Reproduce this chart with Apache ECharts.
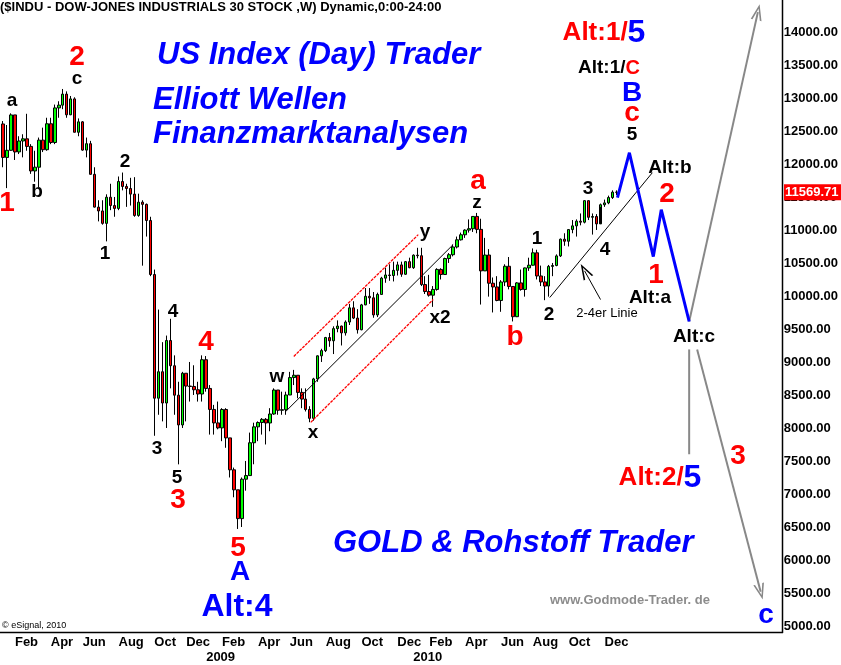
<!DOCTYPE html>
<html><head><meta charset="utf-8">
<script src="https://cdn.jsdelivr.net/npm/echarts@6/dist/echarts.min.js"></script>
<style>html,body{margin:0;padding:0;background:#fff}#c{width:841px;height:665px}</style>
</head><body><div id="c"></div>
<script>
// ---------- DATA ----------
const firstWeek = '2008-01-14';
const totalWeeks = 196;
const opens = [
12606,12099,12207,12743,12182,12348,12381,12266,11894,11951,
12361,12216,12609,12325,12849,12891,13058,12745,12986,12480,
12638,12210,12307,11843,11346,11288,11100,11496,11370,11326,
11734,11659,11628,11543,11220,11421,11388,11143,10325,8451,
8852,8378,9325,8943,8497,8046,8829,8635,8629,8579,
8515,9034,8599,8281,8077,8001,8280,7850,7366,7063,
6627,7224,7279,7776,8017,8083,8131,8076,8212,8575,
8268,8277,8500,8764,8799,8539,8438,8280,8146,8743,
9093,9172,9370,9321,9505,9544,9441,9605,9820,9665,
9488,9865,9995,9972,9713,10023,10270,10318,10310,10388,
10471,10329,10520,10428,10618,10610,10173,10067,10012,10099,
10402,10325,10567,10625,10742,10851,10927,10998,11019,11205,
11009,10380,10620,10193,10137,9932,10212,10450,10144,9686,
10198,10098,10425,10466,10654,10303,10213,10150,10448,10462,
10607,10860,10829,11006,11062,11133,11118,11444,11192,11204,
11092,11382,11410,11491,11573];
const highs = [
12650,12590,12767,12743,12420,12450,12760,12300,12200,12400,
12550,12700,12700,12900,12950,13136,13100,13030,13010,12690,
12650,12400,12350,11950,11450,11450,11540,11700,11500,11810,
11870,11700,11790,11800,11550,11450,11400,11200,10400,9794,
9300,9400,9654,9100,8700,8850,8830,9000,8950,8700,
9100,9090,8650,8350,8400,8300,8300,7850,7400,7063,
7250,7500,7930,8080,8100,8150,8150,8300,8600,8575,
8550,8550,8850,8880,8800,8600,8600,8330,8760,9100,
9200,9380,9440,9540,9630,9550,9630,9880,9920,9800,
9880,10120,10120,10060,10050,10290,10430,10480,10520,10520,
10520,10530,10580,10630,10730,10730,10300,10320,10150,10420,
10420,10580,10650,10780,10900,10960,11010,11160,11210,11258,
11170,10880,10710,10280,10300,10240,10480,10590,10150,10210,
10400,10430,10580,10720,10700,10460,10300,10470,10500,10630,
10870,10950,11010,11150,11160,11250,11450,11450,11250,11240,
11400,11460,11520,11600,11600];
const lows = [
11950,11634,12200,12060,12150,12100,12200,11850,11731,11650,
12180,12200,12300,12300,12700,12830,12700,12740,12480,12420,
12200,12100,11840,11340,11130,11080,10827,11300,11200,11300,
11600,11350,11370,11200,11200,10459,10900,10300,7882,8200,
8100,8000,8600,8200,7449,8000,8100,8400,8500,8400,
8400,8550,7900,7900,7980,7800,7700,7250,6950,6470,
6500,7050,7279,7450,7800,7900,7750,7950,8200,8200,
8200,8200,8500,8650,8450,8300,8250,8087,8110,8700,
9000,9150,9230,9120,9450,9250,9400,9560,9650,9430,
9480,9860,9880,9670,9680,10020,10200,10230,10220,10310,
10290,10320,10420,10410,10570,10150,10030,9990,9835,10080,
10250,10320,10500,10600,10720,10840,10880,10960,10970,10950,
9870,10380,9990,9750,9920,9760,10150,10100,9614,9680,
10080,9990,10380,10460,10250,10150,9936,9990,10300,10450,
10590,10760,10750,10950,10900,11070,11100,11150,10930,11000,
11350,11350,11390,11470,11530];
const closes = [
12099,12207,12743,12182,12348,12381,12266,11894,11951,12361,
12216,12609,12325,12849,12891,13058,12745,12986,12480,12638,
12210,12307,11843,11346,11288,11100,11496,11370,11326,11734,
11659,11628,11543,11220,11421,11388,11143,10325,8451,8852,
8378,9325,8943,8497,8046,8829,8635,8629,8579,8515,
9034,8599,8281,8077,8001,8280,7850,7366,7063,6627,
7224,7279,7776,8017,8083,8131,8076,8212,8575,8268,
8277,8500,8764,8799,8539,8438,8280,8146,8743,9093,
9172,9370,9321,9505,9544,9441,9605,9820,9665,9488,
9865,9995,9972,9713,10023,10270,10318,10310,10388,10471,
10329,10520,10428,10618,10610,10173,10067,10012,10099,10402,
10325,10567,10625,10742,10851,10927,10998,11019,11205,11009,
10380,10620,10193,10137,9932,10212,10450,10144,9686,10198,
10098,10425,10466,10654,10303,10213,10150,10448,10462,10607,
10860,10829,11006,11062,11133,11118,11444,11192,11204,11092,
11382,11410,11491,11573,11569.71];
const priceTicks = [5000,5500,6000,6500,7000,7500,8000,8500,9000,9500,10000,10500,11000,11500,12000,12500,13000,13500,14000];
const lastPrice = 11569.71;
const monthNames = ['Jan','Feb','Mar','Apr','May','Jun','Jul','Aug','Sep','Oct','Nov','Dec'];
const labelMonths = [1,3,5,7,9,11];
// projections / drawn lines: [week index, price]
const projWave = [[154.25,11490],[157.25,12170],[163.25,10597],[165.25,11307],[172.25,9613]];
const arrowUp = [[172.25,9613],[189.5,14300]];
const arrowDown = [[174.25,9190],[190.2,5520]];
const altCLine = [[172.25,9190],[172.25,7602]];
const channelUpper = [[73,9084],[104.25,10929]];
const channelMid = [[71,8252],[113,10778]];
const channelLower = [[77.25,8085],[108,9946]];
const line24 = [[137.25,9976],[163,11867]];
const labelArrow = [[150,9946],[146,10380]];

// ---------- BUILD ----------
const start = Date.parse(firstWeek + 'T00:00:00Z');
const cats = [];
for (let i = 0; i < totalWeeks; i++) cats.push(new Date(start + i * 7 * 86400000).toISOString().slice(0, 10));
const axisText = cats.map((s, i) => {
  if (i === 0 || i >= closes.length) return '';
  const m = +s.slice(5, 7) - 1, pm = +cats[i - 1].slice(5, 7) - 1;
  if (m === pm) return '';
  if (m === 0) return '\n' + s.slice(0, 4);
  return labelMonths.includes(m) ? monthNames[m] : '';
});
const candles = closes.map((c, i) => [opens[i], c, lows[i], highs[i]]);

const FONT = '"Liberation Sans", Arial, sans-serif';
const RED = '#ff0000', BLUE = '#0000ff';
const styles = {
  R: { fill: RED, font: 'bold 28px ' + FONT },
  K: { fill: '#000', font: 'bold 19px ' + FONT },
  B: { fill: BLUE, font: 'bold 28px ' + FONT },
  BB: { fill: BLUE, font: 'bold 32px ' + FONT }
};
const annotations = [
  ['1', 7, 203, 'R'], ['2', 77, 57, 'R'], ['3', 178, 500, 'R'], ['4', 206, 342, 'R'], ['5', 238, 548, 'R'],
  ['a', 478, 181, 'R'], ['b', 515, 337, 'R'], ['c', 632, 113, 'R'], ['2', 667, 194, 'R'], ['1', 656, 275, 'R'], ['3', 738, 456, 'R'],
  ['a', 12, 101, 'K'], ['b', 37, 192, 'K'], ['c', 77, 79, 'K'], ['2', 125, 162, 'K'], ['1', 105, 254, 'K'],
  ['3', 157, 449, 'K'], ['4', 173, 312, 'K'], ['5', 177, 478, 'K'], ['w', 277, 377, 'K'], ['x', 313, 433, 'K'],
  ['y', 425, 232, 'K'], ['x2', 440, 318, 'K'], ['z', 477, 203, 'K'], ['1', 537, 239, 'K'], ['2', 549, 315, 'K'],
  ['3', 588, 189, 'K'], ['4', 605, 250, 'K'], ['5', 632, 135, 'K'], ['Alt:b', 670, 168, 'K'], ['Alt:a', 650, 298, 'K'],
  ['Alt:c', 694, 337, 'K'],
  ['A', 240, 572, 'B'], ['B', 632, 93, 'B'], ['c', 766, 615, 'B'], ['Alt:4', 237, 607, 'BB']
];
const graphics = annotations.map(a => ({
  type: 'text', x: a[1], y: a[2], z: 100, silent: true,
  style: Object.assign({ text: a[0], align: 'center', verticalAlign: 'middle' }, styles[a[3]])
}));
const italic = 'italic bold 31px ' + FONT;
graphics.push(
  { type: 'text', x: 0, y: 1, z: 100, style: { text: '($INDU - DOW-JONES INDUSTRIALS 30 STOCK ,W) Dynamic,0:00-24:00', font: 'bold 13px ' + FONT, fill: '#000', align: 'left', verticalAlign: 'top' } },
  { type: 'text', x: 157, y: 55, z: 100, style: { text: 'US Index (Day) Trader', font: italic, fill: BLUE, align: 'left', verticalAlign: 'middle' } },
  { type: 'text', x: 153, y: 100, z: 100, style: { text: 'Elliott Wellen', font: italic, fill: BLUE, align: 'left', verticalAlign: 'middle' } },
  { type: 'text', x: 153, y: 134, z: 100, style: { text: 'Finanzmarktanalysen', font: italic, fill: BLUE, align: 'left', verticalAlign: 'middle' } },
  { type: 'text', x: 333, y: 543, z: 100, style: { text: 'GOLD & Rohstoff Trader', font: italic, fill: BLUE, align: 'left', verticalAlign: 'middle' } },
  { type: 'text', x: 550, y: 600, z: 100, style: { text: 'www.Godmode-Trader. de', font: 'bold 13px ' + FONT, fill: '#8c8c8c', align: 'left', verticalAlign: 'middle' } },
  { type: 'text', x: 2, y: 626, z: 100, style: { text: '\u00a9 eSignal, 2010', font: '9px ' + FONT, fill: '#000', align: 'left', verticalAlign: 'middle' } },
  { type: 'text', x: 607, y: 313, z: 100, style: { text: '2-4er Linie', font: '13px ' + FONT, fill: '#000', align: 'center', verticalAlign: 'middle' } },
  { type: 'text', x: 604, y: 33, z: 100, style: { text: '{r|Alt:1/}{b|5}', align: 'center', verticalAlign: 'middle',
      rich: { r: { fill: RED, font: 'bold 26px ' + FONT }, b: { fill: BLUE, font: 'bold 32px ' + FONT } } } },
  { type: 'text', x: 609, y: 68, z: 100, style: { text: '{k|Alt:1/}{r|C}', align: 'center', verticalAlign: 'middle',
      rich: { k: { fill: '#000', font: 'bold 19px ' + FONT }, r: { fill: RED, font: 'bold 20px ' + FONT } } } },
  { type: 'text', x: 660, y: 478, z: 100, style: { text: '{r|Alt:2/}{b|5}', align: 'center', verticalAlign: 'middle',
      rich: { r: { fill: RED, font: 'bold 26px ' + FONT }, b: { fill: BLUE, font: 'bold 32px ' + FONT } } } }
);

const arrowHead = 'path://M5,0 L10,16 L8.4,16 L5,4.5 L1.6,16 L0,16 Z';
function seg(pts, color, width, type) {
  return { type: 'line', xAxisIndex: 1, yAxisIndex: 0, data: pts, showSymbol: false, symbol: 'none', silent: true,
    lineStyle: { color: color, width: width, type: type || 'solid' }, z: 5, animation: false };
}
function arrowLine(pts, color, width) {
  return { type: 'line', xAxisIndex: 1, yAxisIndex: 0, data: [], silent: true, animation: false,
    markLine: { silent: true, animation: false, symbol: ['none', arrowHead], symbolSize: [11, 16],
      label: { show: false }, lineStyle: { color: color, width: width, type: 'solid' },
      emphasis: { disabled: true },
      data: [[{ coord: pts[0] }, { coord: pts[1] }]] } };
}

const chart = echarts.init(document.getElementById('c'));
chart.setOption({
  animation: false,
  backgroundColor: '#fff',
  grid: { left: 1, right: 55, top: 0, bottom: 32, containLabel: false },
  xAxis: [
    { type: 'category', data: cats, boundaryGap: true,
      axisLine: { show: true, onZero: false, lineStyle: { color: '#000', width: 1 } }, axisTick: { show: false },
      axisLabel: { interval: 0, formatter: (v, i) => axisText[i], align: 'left', margin: 3, lineHeight: 15,
        color: '#000', fontWeight: 'bold', fontSize: 13, fontFamily: FONT },
      splitLine: { show: false } },
    { type: 'value', min: -0.5, max: totalWeeks - 0.5, show: false, axisLine: { onZero: false } }
  ],
  yAxis: [{ type: 'value', position: 'right', min: 4909, max: 14484, scale: true,
    axisLine: { show: true, onZero: false, lineStyle: { color: '#000', width: 1 } }, axisTick: { show: false },
    splitLine: { show: false },
    axisLabel: { customValues: priceTicks, formatter: v => v.toFixed(2), margin: 2, color: '#000',
      fontWeight: 'bold', fontSize: 13, fontFamily: FONT } }],
  series: [
    { type: 'candlestick', xAxisIndex: 0, yAxisIndex: 0, data: candles, barWidth: 3, z: 3,
      itemStyle: { color: '#00ff00', color0: '#ff0000', borderColor: '#000', borderColor0: '#000', borderWidth: 1 } },
    seg(channelUpper, RED, 1.3, [3, 1]),
    seg(channelMid, '#000', 1),
    seg(channelLower, RED, 1.3, [3, 1]),
    seg(line24, '#000', 1),
    seg(altCLine, '#888', 2),
    seg(projWave, BLUE, 3),
    arrowLine(arrowUp, '#888', 2),
    arrowLine(arrowDown, '#888', 2),
    arrowLine(labelArrow, '#000', 1)
  ],
  graphic: graphics
});
// frame lines and last-price tag placed through the axes' scales
const tagY = chart.convertToPixel({ yAxisIndex: 0 }, lastPrice);
const rightX = Math.round(chart.convertToPixel({ xAxisIndex: 1 }, totalWeeks - 0.5));
const bottomY = Math.round(chart.convertToPixel({ yAxisIndex: 0 }, 4909));
graphics.push(
  { type: 'line', z: 90, shape: { x1: rightX + 0.5, y1: 0, x2: rightX + 0.5, y2: bottomY + 1 }, style: { stroke: '#000', lineWidth: 1.5 } },
  { type: 'line', z: 90, shape: { x1: 0, y1: bottomY + 0.5, x2: rightX + 1, y2: bottomY + 0.5 }, style: { stroke: '#000', lineWidth: 1.5 } },
  { type: 'rect', x: rightX + 2, y: tagY - 8, z: 110, shape: { width: 841 - rightX - 2, height: 16 }, style: { fill: RED } },
  { type: 'text', x: rightX + 3, y: tagY, z: 111, style: { text: lastPrice.toFixed(2), font: 'bold 13px ' + FONT, fill: '#fff', align: 'left', verticalAlign: 'middle' } }
);
chart.setOption({ graphic: graphics });
</script></body></html>
